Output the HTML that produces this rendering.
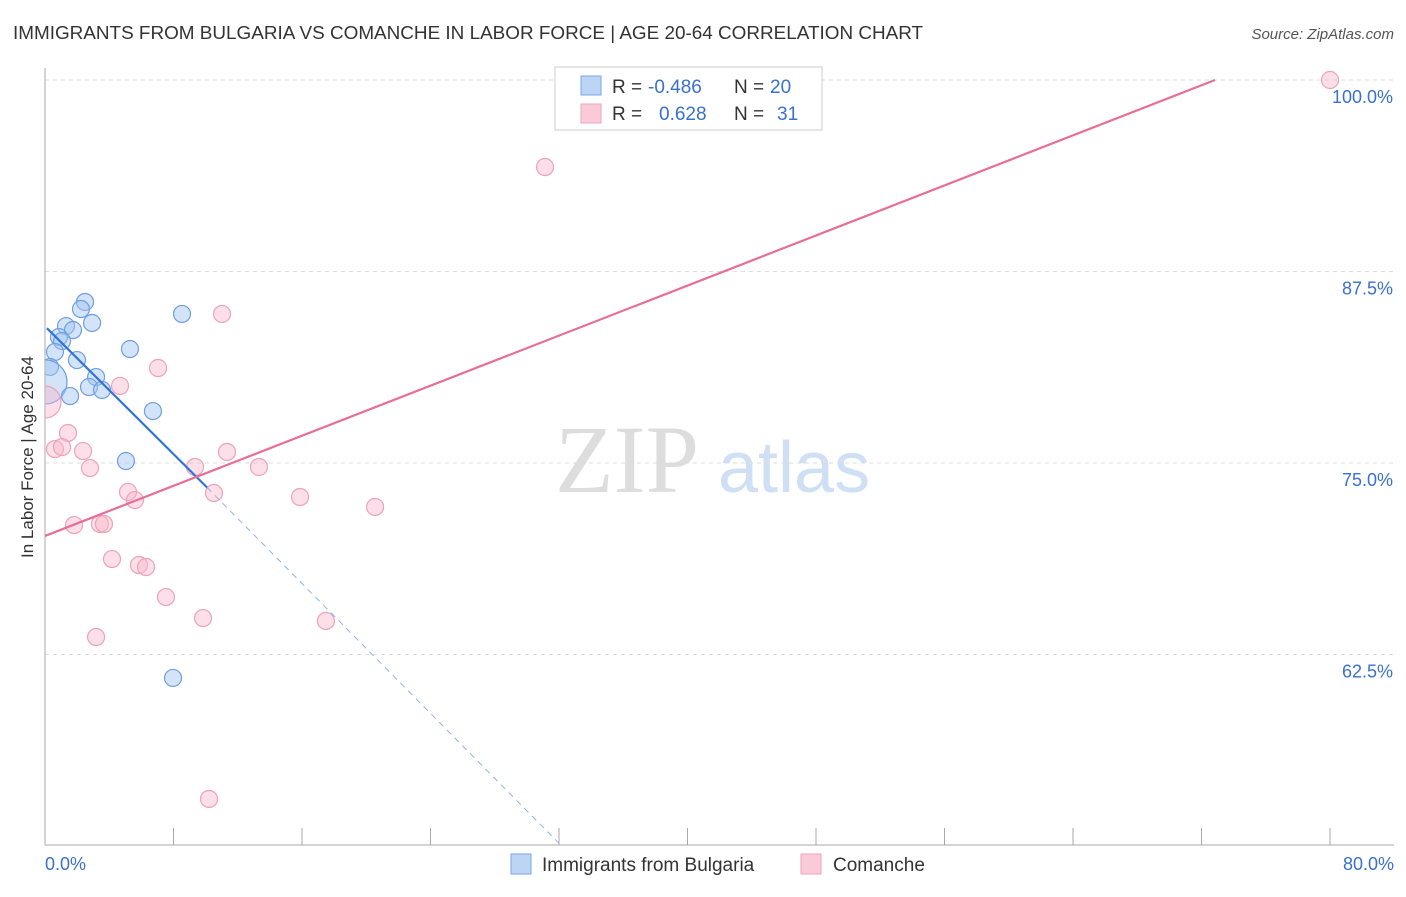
<!DOCTYPE html>
<html><head><meta charset="utf-8"><style>
body{margin:0;background:#fff;font-family:"Liberation Sans",sans-serif;}
svg text{font-family:"Liberation Sans",sans-serif;}
</style></head><body>
<svg id="chart" width="1406" height="892" xmlns="http://www.w3.org/2000/svg">
<defs><clipPath id="plotclip"><rect x="45" y="60" width="1360" height="785"/></clipPath></defs>
<text x="13" y="39" font-size="18.9" fill="#333">IMMIGRANTS FROM BULGARIA VS COMANCHE IN LABOR FORCE | AGE 20-64 CORRELATION CHART</text>
<text x="1394" y="39" font-size="15" fill="#555" text-anchor="end" font-style="italic">Source: ZipAtlas.com</text>
<text transform="translate(33,457) rotate(-90)" font-size="17" fill="#333" text-anchor="middle">In Labor Force | Age 20-64</text>
<g>
<text x="555" y="492" font-size="96" fill="#ddd" font-family="Liberation Serif" style="font-family:'Liberation Serif',serif">ZIP</text>
<text x="718" y="492" font-size="72" fill="#cfe0f4">atlas</text>
</g>
<g id="grid"></g><g id="axes"></g><g id="pts" clip-path="url(#plotclip)"></g><g id="lines"></g>
<g>
<rect x="555" y="67" width="267" height="63" fill="#fff" stroke="#ccc"/>
<rect x="581" y="76" width="20" height="19" fill="#bcd5f5" stroke="#7aa8e8"/>
<rect x="581" y="104" width="20" height="19" fill="#fbcad8" stroke="#eea5bc"/>
<text x="612" y="93" font-size="19" fill="#333">R =</text>
<text x="648" y="93" font-size="19" fill="#3a70d0">-0.486</text>
<text x="734" y="93" font-size="19" fill="#333">N =</text>
<text x="770" y="93" font-size="19" fill="#3a70d0">20</text>
<text x="612" y="120" font-size="19" fill="#333">R =</text>
<text x="659" y="120" font-size="19" fill="#3a70d0">0.628</text>
<text x="734" y="120" font-size="19" fill="#333">N =</text>
<text x="777" y="120" font-size="19" fill="#3a70d0">31</text>
</g>
<g>
<rect x="511" y="854" width="20" height="20" fill="#bcd5f5" stroke="#7aa8e8"/>
<text x="542" y="871" font-size="19" fill="#333">Immigrants from Bulgaria</text>
<rect x="801" y="854" width="20" height="20" fill="#fbcad8" stroke="#eea5bc"/>
<text x="833" y="871" font-size="19" fill="#333">Comanche</text>
</g>
</svg>
<script>
const yTicks=[62.5,75.0,87.5,100.0];
const yTickLabels=["62.5%","75.0%","87.5%","100.0%"];
const xTicks=[0,8,16,24,32,40,48,56,64,72,80];
const xLabels=["0.0%","80.0%"];
const blueX=[2.49,2.24,1.31,2.93,1.74,0.87,1.06,0.62,0.31,1.99,0,3.18,2.74,3.55,1.56,5.29,8.53,6.72,5.04,7.97];
const blueY=[85.51,85.05,83.94,84.14,83.68,83.22,82.96,82.25,81.27,81.72,80.29,80.61,79.96,79.77,79.37,82.44,84.73,78.39,75.13,60.97];
const blueR=[8.5,8.5,8.5,8.5,8.5,8.5,8.5,8.5,8.5,8.5,22,8.5,8.5,8.5,8.5,8.5,8.5,8.5,8.5,8.5];
const pinkX=[33.2,80,31.13,11.02,7.04,4.67,0,1.43,0.62,1.06,2.37,2.8,11.33,9.34,13.32,5.17,5.6,10.52,15.88,20.55,1.81,3.42,3.67,4.17,5.85,6.29,7.53,9.84,17.49,3.18,10.21];
const pinkY=[100,100,94.32,84.73,81.2,80.03,78.98,76.96,75.91,76.04,75.78,74.67,75.72,74.74,74.74,73.11,72.58,73.04,72.78,72.13,70.95,71.02,71.02,68.73,68.34,68.21,66.25,64.88,64.69,63.64,53.07];
const pinkR=[8.5,8.5,8.5,8.5,8.5,8.5,16,8.5,8.5,8.5,8.5,8.5,8.5,8.5,8.5,8.5,8.5,8.5,8.5,8.5,8.5,8.5,8.5,8.5,8.5,8.5,8.5,8.5,8.5,8.5,8.5];
const blueTrend=[[0.12,83.8],[10.09,73.4],[32.1,50.07]];
const pinkTrend=[[0,70.24],[72.84,100]];
const X=v=>45+v/80*1285, Y=v=>80+(100-v)/12.5*191.5;
const NS="http://www.w3.org/2000/svg";
function mk(t,a,p){const e=document.createElementNS(NS,t);for(const k in a)e.setAttribute(k,a[k]);document.getElementById(p).appendChild(e);return e;}
yTicks.forEach((v,i)=>{
 const l=mk('line',{x1:45,x2:1394,y1:Y(v),y2:Y(v),stroke:'#ddd','stroke-dasharray':'4,4'},'grid');
 
 
 const t=mk('text',{x:1393,y:Y(v)+23,'font-size':18,fill:'#3a70d0','text-anchor':'end'},'axes');t.textContent=yTickLabels[i];
 
 
});
const ax=mk('line',{x1:45,x2:45,y1:68,y2:845,stroke:'#aaa'},'axes');


const bx=mk('line',{x1:45,x2:1394,y1:845,y2:845,stroke:'#aaa'},'axes');


xTicks.forEach(v=>{const t=mk('line',{x1:X(v),x2:X(v),y1:828,y2:845,stroke:'#aaa'},'axes');
 
 });
[[0,xLabels[0],'start',45],[80,xLabels[1],'end',1394]].forEach(d=>{const t=mk('text',{x:d[3],y:870,'font-size':18,fill:'#3a70d0','text-anchor':d[2]},'axes');t.textContent=d[1];
 
 });
function dots(xs,ys,rs,fill,stroke,name){xs.forEach((x,i)=>{const c=mk('circle',{cx:X(x),cy:Y(ys[i]),r:rs[i],fill:fill,stroke:stroke,'stroke-width':1.2},'pts');
 
 });}
dots(blueX,blueY,blueR,'rgba(160,195,240,0.45)','#6f9fe0','bulgaria-point');
dots(pinkX,pinkY,pinkR,'rgba(248,185,205,0.45)','#eba3ba','comanche-point');
const b1=mk('line',{x1:X(blueTrend[0][0]),y1:Y(blueTrend[0][1]),x2:X(blueTrend[1][0]),y2:Y(blueTrend[1][1]),stroke:'#2f74d6','stroke-width':2.2},'lines');


const b2=mk('line',{x1:X(blueTrend[1][0]),y1:Y(blueTrend[1][1]),x2:X(blueTrend[2][0]),y2:Y(blueTrend[2][1]),stroke:'#8fb3e6','stroke-width':1,'stroke-dasharray':'6,5'},'lines');


const p1=mk('line',{x1:X(pinkTrend[0][0]),y1:Y(pinkTrend[0][1]),x2:X(pinkTrend[1][0]),y2:Y(pinkTrend[1][1]),stroke:'#e86d98','stroke-width':2.2},'lines');


</script>
</body></html>
